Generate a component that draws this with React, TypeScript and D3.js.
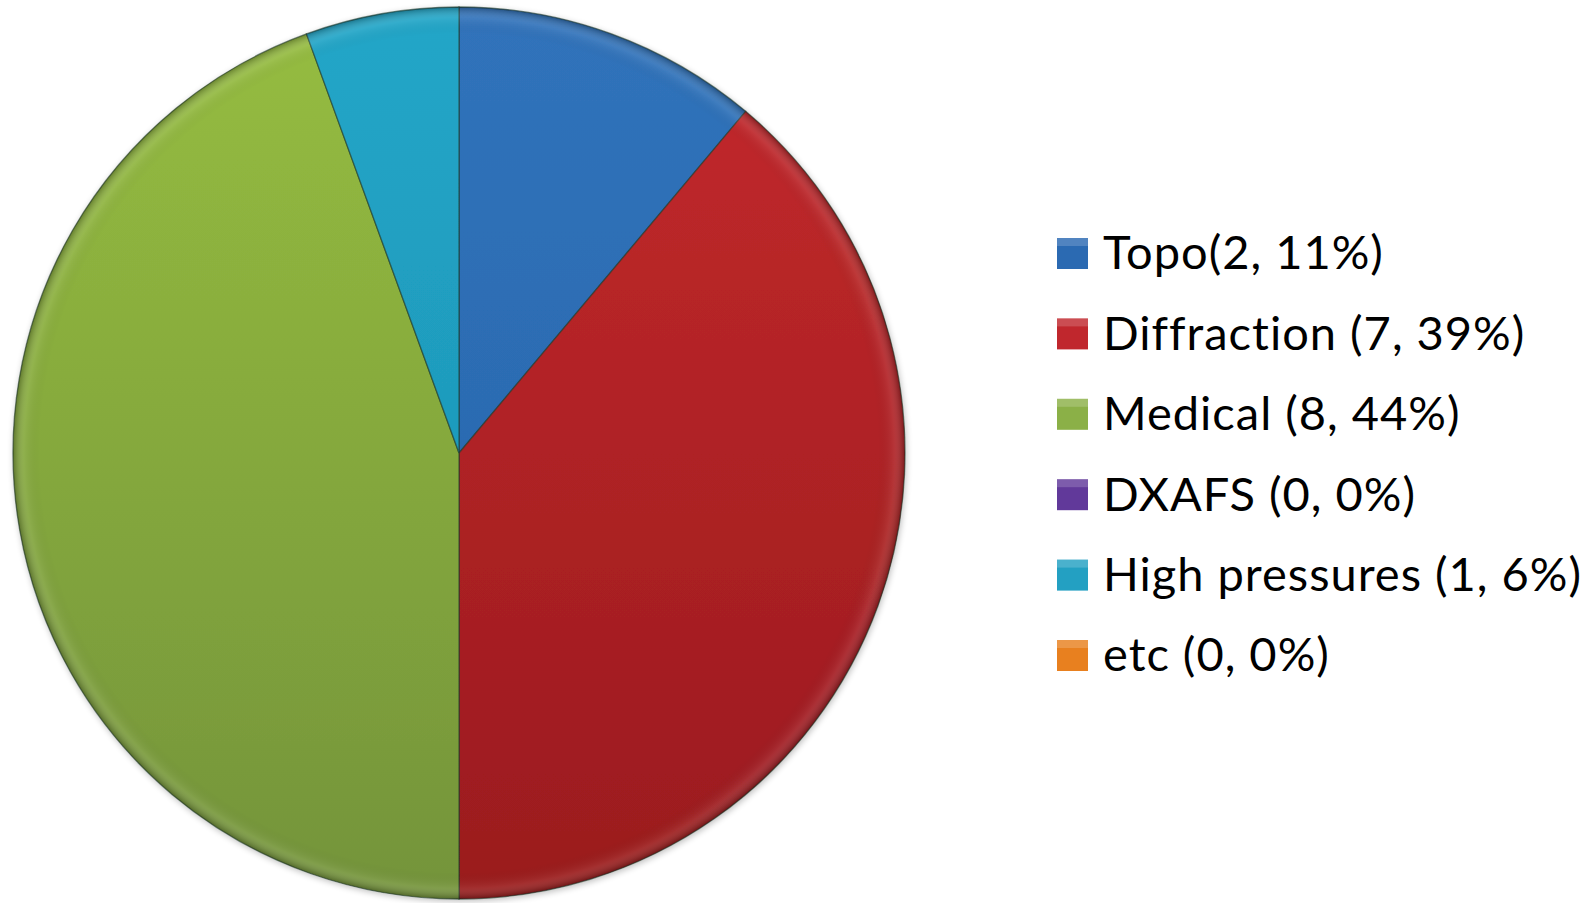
import React from "react";
import * as d3 from "d3";

const categories = ["Topo", "Diffraction", "Medical", "DXAFS", "High pressures", "etc"];
const values = [2, 7, 8, 0, 1, 0];
const legendLabels = [
  "Topo(2, 11%)",
  "Diffraction (7, 39%)",
  "Medical (8, 44%)",
  "DXAFS (0, 0%)",
  "High pressures (1, 6%)",
  "etc (0, 0%)",
];
const colorTop = ["#3073bb", "#c42a2c", "#96bd40", "#6d42a0", "#22a6c8", "#ee8a2a"];
const colorBottom = ["#2763a8", "#9a1a1e", "#74943a", "#553181", "#1b8fb0", "#d8701a"];
const swatchColors = ["#2b6ab2", "#c0272d", "#8bb047", "#61399a", "#23a0c2", "#e8801f"];

const W = 1595;
const H = 903;
const cx = 459;
const cy = 453;
const R = 446;

export default function App() {
  const pie = d3.pie<number>().sort(null).value((d) => d)(values);
  const arc = d3.arc<d3.PieArcDatum<number>>().innerRadius(0).outerRadius(R);
  const yLegend = d3.scalePoint<string>().domain(categories).range([253, 655]);

  return (
    <svg
      width={W}
      height={H}
      style={{ position: "absolute", left: 0, top: 0, background: "#fff" }}
    >
      <defs>
        {categories.map((c, i) => (
          <linearGradient
            key={c}
            id={`g${i}`}
            gradientUnits="userSpaceOnUse"
            x1={0}
            y1={-R}
            x2={0}
            y2={R}
          >
            <stop offset="0%" stopColor={colorTop[i]} />
            <stop offset="100%" stopColor={colorBottom[i]} />
          </linearGradient>
        ))}
        <radialGradient id="rim" gradientUnits="userSpaceOnUse" cx={cx} cy={cy} r={R}>
          <stop offset="94%" stopColor="#000" stopOpacity={0} />
          <stop offset="97.5%" stopColor="#fff" stopOpacity={0.08} />
          <stop offset="100%" stopColor="#000" stopOpacity={0.3} />
        </radialGradient>
        <filter id="shadow" x="-10%" y="-10%" width="120%" height="120%">
          <feGaussianBlur in="SourceAlpha" stdDeviation="3" />
          <feOffset dx="1" dy="2" result="b" />
          <feComponentTransfer>
            <feFuncA type="linear" slope="0.25" />
          </feComponentTransfer>
          <feMerge>
            <feMergeNode />
            <feMergeNode in="SourceGraphic" />
          </feMerge>
        </filter>
      </defs>
      <g transform={`translate(${cx},${cy})`} filter="url(#shadow)">
        {pie.map((p, i) =>
          p.value > 0 ? (
            <path
              key={categories[i]}
              d={arc(p) || ""}
              fill={`url(#g${i})`}
              stroke="#1f3a2a"
              strokeOpacity={0.6}
              strokeWidth={1.3}
            />
          ) : null
        )}
      </g>
      <circle cx={cx} cy={cy} r={R} fill="url(#rim)" pointerEvents="none" />
      <g>
        {categories.map((c, i) => {
          const y = yLegend(c) as number;
          return (
            <g key={c}>
              <rect x={1057} y={y - 15} width={31} height={31} fill={swatchColors[i]} />
              <rect x={1057} y={y - 15} width={31} height={8} fill="#fff" fillOpacity={0.18} />
              <text
                x={1103}
                y={y}
                dy="0.35em"
                fontFamily="Lato, 'Open Sans', sans-serif"
                fontSize={47}
                letterSpacing={1}
                fill="#000"
              >
                {legendLabels[i]}
              </text>
            </g>
          );
        })}
      </g>
    </svg>
  );
}
